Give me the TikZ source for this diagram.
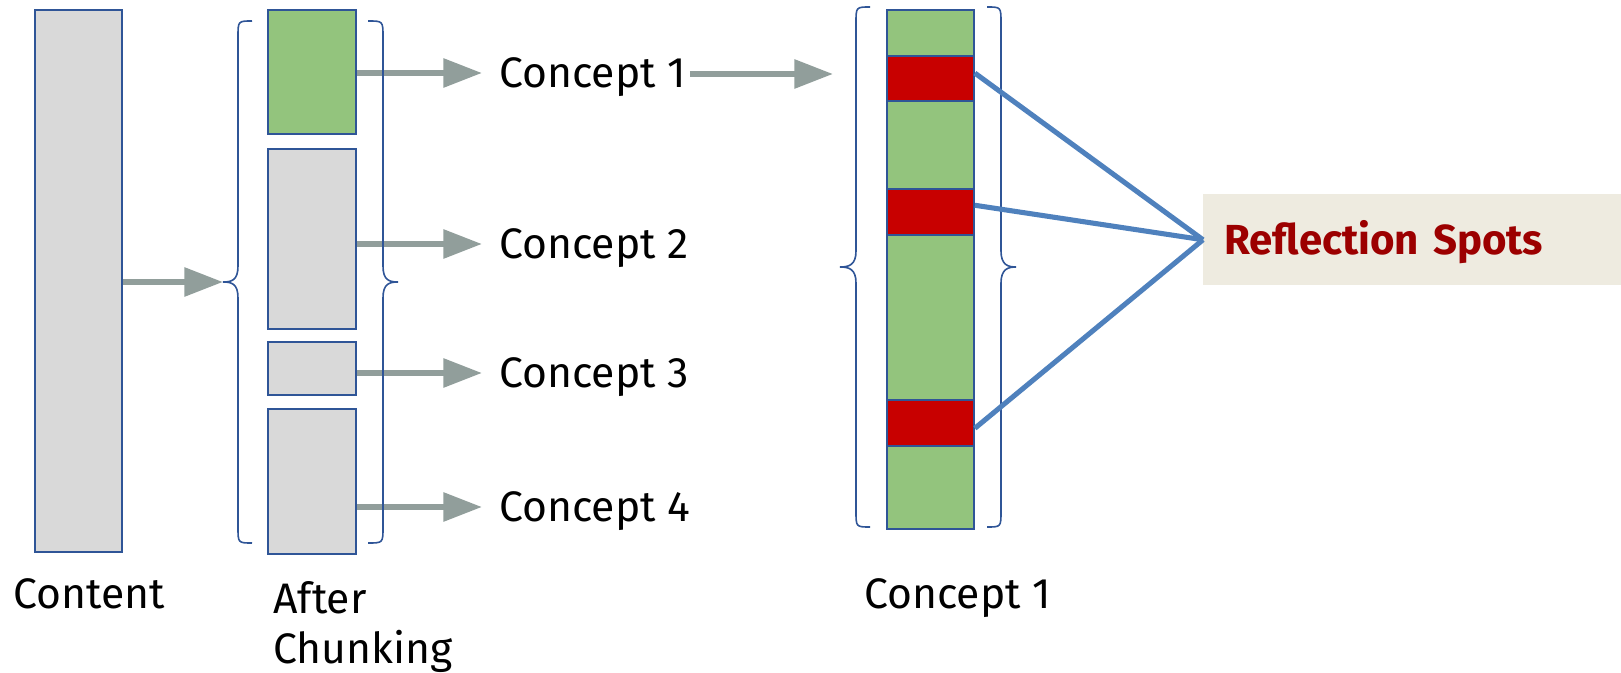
\documentclass[tikz,border=0pt]{standalone}
\usepackage{fontspec}
\setmainfont{Fira Sans}
\usetikzlibrary{positioning, arrows.meta, calc}
\definecolor{boxgray}{HTML}{D9D9D9}
\definecolor{boxline}{HTML}{2F5597}
\definecolor{chunkgreen}{HTML}{93C47D}
\definecolor{spotred}{HTML}{C80000}
\definecolor{arrowgray}{HTML}{919E9B}
\definecolor{linkblue}{HTML}{4F81BD}
\definecolor{notebeige}{HTML}{EEEBE0}
\definecolor{notered}{HTML}{9C0000}

\begin{document}
\begin{tikzpicture}[x=0.75pt, y=-0.75pt,
	every node/.style={font=\fontsize{32pt}{37.5pt}\selectfont},
	block/.style={draw=boxline, line width=1.4pt, fill=boxgray, inner sep=0pt, anchor=north west},
	concept/.style={anchor=west, inner xsep=0pt, text height=22pt, text depth=0pt},
	caption/.style={anchor=base west, inner sep=0pt, align=left},
	flow/.style={draw=arrowgray, line width=4.5pt, -{Triangle[length=29pt, width=21pt]}, shorten >=12.75pt},
	curly/.style={draw=boxline, line width=1.2pt},
	link/.style={draw=linkblue, line width=3.8pt},
	note/.style={anchor=north west, fill=notebeige, minimum height=68.25pt, text width=282pt, inner xsep=15.75pt, align=left, text height=21.7pt, text depth=0pt, font=\fontsize{31.5pt}{37pt}\selectfont\bfseries, text=notered}]
	\useasboundingbox (0,0) rectangle (1621,673);
	
	% content and chunks
	\node[block, minimum width=65.25pt, minimum height=406.5pt] (content) at (34,9) {};
	\node[block, fill=chunkgreen, minimum width=66pt, minimum height=93pt] (chunk1) at (267,9) {};
	\node[block, minimum width=66pt, minimum height=135pt] (chunk2) at (267,148) {};
	\node[block, minimum width=66pt, minimum height=39.75pt] (chunk3) at (267,341) {};
	\node[block, minimum width=66pt, minimum height=108.75pt] (chunk4) at (267,408) {};
	
	\coordinate (tipA) at (223,282);
	\draw[flow, shorten >=0pt] (content.east |- tipA) -- (tipA);
	
	\foreach \i/\y in {1/73, 2/244, 3/373, 4/507} {
		\node[concept] (c\i) at (499,\y) {Concept \i};
		\draw[flow] (chunk\i.east |- c\i.west) -- (c\i.west);
	}
	
	% concept 1 bar
	\node[block, fill=chunkgreen, minimum width=65.25pt, minimum height=389.25pt] (bar) at (886,9) {};
	\node[block, fill=spotred, minimum width=65.25pt, minimum height=33.75pt] (r1) at (886,55) {};
	\node[block, fill=spotred, minimum width=65.25pt, minimum height=34.5pt] (r2) at (886,188) {};
	\node[block, fill=spotred, minimum width=65.25pt, minimum height=34.5pt] (r3) at (886,399) {};
	
	\coordinate (tipB) at (833,74);
	\draw[flow, shorten >=0pt] ([xshift=3pt]c1.east |- tipB) -- (tipB);
	
	% braces
	\draw[curly] (252,21) .. controls (238,21) .. (238,37) -- (238,266) .. controls (238,280) and (232,282) .. (223,282) .. controls (232,282) and (238,284) .. (238,298) -- (238,527) .. controls (238,543) .. (252,543);
	\draw[curly] (368,21) .. controls (383,21) .. (383,37) -- (383,266) .. controls (383,280) and (389,282) .. (398,282) .. controls (389,282) and (383,284) .. (383,298) -- (383,527) .. controls (383,543) .. (368,543);
	\draw[curly] (870,7) .. controls (856,7) .. (856,23) -- (856,251) .. controls (856,265) and (849,267) .. (840,267) .. controls (849,267) and (856,269) .. (856,283) -- (856,511) .. controls (856,527) .. (870,527);
	\draw[curly] (987,7) .. controls (1001,7) .. (1001,23) -- (1001,251) .. controls (1001,265) and (1008,267) .. (1016,267) .. controls (1008,267) and (1001,269) .. (1001,283) -- (1001,511) .. controls (1001,527) .. (987,527);
	
	% reflection spots
	\node[note] (spots) at (1203,194) {Reflection Spots};
	\foreach \r/\dy in {1/4, 2/5, 3/-4}
		\draw[link] ([yshift=\dy pt]r\r.east) -- (spots.west);
	
	% captions
	\node[caption] (lcontent) at (13,608) {Content};
	\node[caption] (lchunk) at (273,663) {After\\Chunking};
	\node[caption] (lconcept) at (864,608) {Concept 1};
\end{tikzpicture}
\end{document}
